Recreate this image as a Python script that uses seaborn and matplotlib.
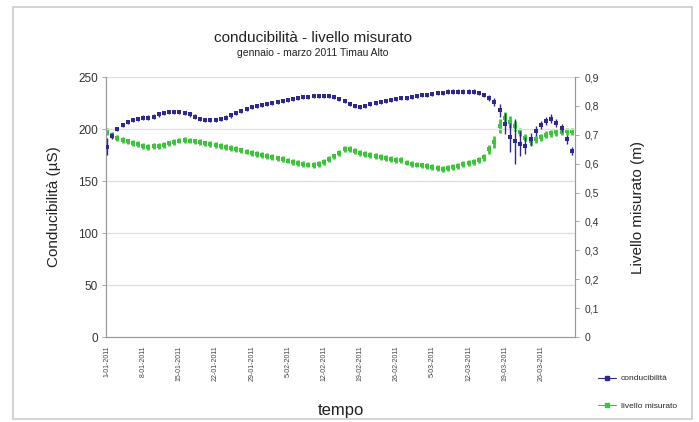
import matplotlib
matplotlib.use("Agg")
import matplotlib.pyplot as plt
import seaborn as sns
import pandas as pd
import numpy as np
from matplotlib.lines import Line2D
from matplotlib.patches import Rectangle

# ---- data ----
start_date = "2011-01-01"
n_days = 91
conducibilita = [183, 193, 200, 204, 207, 209, 210, 211, 211, 212,
                 214, 215, 216, 216, 216, 215, 214, 212, 210, 209,
                 209, 209, 210, 211, 213, 215, 217, 219, 221, 222,
                 223, 224, 225, 226, 227, 228, 229, 230, 231, 231,
                 232, 232, 232, 232, 231, 229, 227, 224, 222, 221,
                 222, 224, 225, 226, 227, 228, 229, 230, 230, 231,
                 232, 233, 233, 234, 235, 235, 236, 236, 236, 236,
                 236, 236, 235, 233, 230, 226, 218, 205, 192, 188,
                 186, 184, 190, 198, 204, 208, 210, 206, 201, 190,
                 179]
cond_err = [8, 3, 2, 2, 2, 2, 2, 2, 2, 2,
            2, 2, 2, 2, 2, 2, 2, 2, 2, 2,
            2, 2, 2, 2, 2, 2, 2, 2, 2, 2,
            2, 2, 2, 2, 2, 2, 2, 2, 2, 2,
            2, 2, 2, 2, 2, 2, 2, 2, 2, 2,
            2, 2, 2, 2, 2, 2, 2, 2, 2, 2,
            2, 2, 2, 2, 2, 2, 2, 2, 2, 2,
            2, 2, 2, 2, 3, 4, 6, 10, 14, 22,
            12, 8, 6, 5, 4, 4, 4, 4, 4, 4,
            4]
livello = [0.710, 0.700, 0.690, 0.683, 0.677, 0.672, 0.667, 0.662, 0.658, 0.660,
           0.662, 0.665, 0.670, 0.676, 0.680, 0.682, 0.680, 0.677, 0.674, 0.670,
           0.667, 0.664, 0.661, 0.658, 0.654, 0.650, 0.646, 0.642, 0.638, 0.634,
           0.630, 0.626, 0.622, 0.618, 0.615, 0.611, 0.606, 0.602, 0.599, 0.597,
           0.595, 0.598, 0.605, 0.615, 0.625, 0.638, 0.650, 0.652, 0.645, 0.637,
           0.633, 0.629, 0.626, 0.623, 0.620, 0.617, 0.614, 0.612, 0.604, 0.600,
           0.597, 0.594, 0.591, 0.588, 0.584, 0.582, 0.585, 0.589, 0.593, 0.598,
           0.603, 0.606, 0.614, 0.623, 0.650, 0.675, 0.730, 0.758, 0.745, 0.730,
           0.710, 0.690, 0.678, 0.685, 0.692, 0.700, 0.705, 0.708, 0.710, 0.712,
           0.712]
liv_err = [0.012, 0.01, 0.01, 0.01, 0.01, 0.01, 0.01, 0.01, 0.01, 0.01,
           0.01, 0.01, 0.01, 0.01, 0.01, 0.01, 0.01, 0.01, 0.01, 0.01,
           0.01, 0.01, 0.01, 0.01, 0.01, 0.01, 0.01, 0.01, 0.01, 0.01,
           0.01, 0.01, 0.01, 0.01, 0.01, 0.01, 0.01, 0.01, 0.01, 0.01,
           0.01, 0.01, 0.01, 0.01, 0.01, 0.01, 0.01, 0.01, 0.01, 0.01,
           0.01, 0.01, 0.01, 0.01, 0.01, 0.01, 0.01, 0.01, 0.01, 0.01,
           0.01, 0.01, 0.01, 0.01, 0.01, 0.01, 0.01, 0.01, 0.01, 0.01,
           0.01, 0.01, 0.01, 0.012, 0.015, 0.02, 0.025, 0.02, 0.02, 0.018,
           0.015, 0.012, 0.012, 0.012, 0.012, 0.012, 0.012, 0.012, 0.012, 0.012,
           0.012]
tick_labels = ["1-01-2011", "8-01-2011", "15-01-2011", "22-01-2011", "29-01-2011",
               "5-02-2011", "12-02-2011", "19-02-2011", "26-02-2011", "5-03-2011",
               "12-03-2011", "19-03-2011", "26-03-2011"]
left_ticks = [0, 50, 100, 150, 200, 250]
right_ticks = [0, 0.1, 0.2, 0.3, 0.4, 0.5, 0.6, 0.7, 0.8, 0.9]

dates = pd.date_range(start_date, periods=n_days, freq="D")
df = pd.DataFrame({"data": dates, "conducibilita": conducibilita,
                   "cond_err": cond_err, "livello": livello, "liv_err": liv_err})
tick_dates = pd.date_range(start_date, periods=len(tick_labels), freq="7D")

BLUE = "#2e2a8c"
GREEN = "#3cc43a"

sns.set_theme(style="white")
plt.rcParams['font.family'] = ['Liberation Sans', 'DejaVu Sans']

fig = plt.figure(figsize=(6.99, 4.22), dpi=100)
ax = fig.add_axes([0.1517, 0.2014, 0.6709, 0.6161])
ax2 = ax.twinx()

# conducibilità (left axis)
ax.errorbar(df["data"], df["conducibilita"], yerr=df["cond_err"], fmt="none",
            ecolor=BLUE, elinewidth=1.0, capsize=0, zorder=3)
sns.scatterplot(data=df, x="data", y="conducibilita", ax=ax, color=BLUE,
                marker="s", s=9, linewidth=0, zorder=4, legend=False)

# livello (right axis)
ax2.errorbar(df["data"], df["livello"], yerr=df["liv_err"], fmt="none",
             ecolor=GREEN, elinewidth=2.0, capsize=0, zorder=3)
sns.scatterplot(data=df, x="data", y="livello", ax=ax2, color=GREEN,
                marker="s", s=9, linewidth=0, zorder=4, legend=False)

ax.set_zorder(ax2.get_zorder() + 1)
ax.patch.set_visible(False)

ax.set_xlim(dates[0] - pd.Timedelta(days=0.2), dates[-1] + pd.Timedelta(days=0.6))
ax.set_ylim(0, 250)
ax2.set_ylim(0, 0.9)
ax.set_yticks(left_ticks)
ax.set_yticklabels([str(t) for t in left_ticks], fontsize=8.5, color="#333333")
ax2.set_yticks(right_ticks)
ax2.set_yticklabels([("%g" % t).replace(".", ",") for t in right_ticks],
                    fontsize=7.5, color="#333333")
ax.set_xticks(tick_dates)
ax.set_xticklabels(tick_labels, rotation=90, fontsize=5, color="#444444")

for y in left_ticks[1:]:
    ax.axhline(y, color="#dddddd", lw=0.9, zorder=0)

for a in (ax, ax2):
    a.spines["top"].set_visible(False)
    for s in ("left", "right", "bottom"):
        a.spines[s].set_color("#999999")
        a.spines[s].set_linewidth(0.8)
ax.tick_params(axis="both", length=3, width=0.6, color="#999999", pad=3)
ax2.tick_params(axis="y", length=3, width=0.6, color="#999999", pad=4)

ax.set_xlabel("tempo", fontsize=12, labelpad=16, color="#222222")
ax.set_ylabel("Conducibilità (µS)", fontsize=11, labelpad=12, color="#222222")
ax2.set_ylabel("Livello misurato (m)", fontsize=11, labelpad=23, color="#222222")

fig.text(0.448, 0.910, "conducibilità - livello misurato", ha="center", va="center",
         fontsize=11, color="#222222")
fig.text(0.448, 0.874, "gennaio - marzo 2011 Timau Alto", ha="center", va="center",
         fontsize=7.5, color="#222222")

handles = [Line2D([], [], color=BLUE, marker="s", markersize=2.5, lw=0.8),
           Line2D([], [], color=GREEN, marker="s", markersize=2.5, lw=0.8)]
fig.legend(handles, ["conducibilità", "livello misurato"], loc="center left",
           bbox_to_anchor=(0.845, 0.07), frameon=False, fontsize=6,
           handlelength=2.2, labelspacing=2.4, handletextpad=0.5)

fig.add_artist(Rectangle((0.018, 0.008), 0.972, 0.975, transform=fig.transFigure,
                         fill=False, edgecolor="#cccccc", lw=1.2))

fig.savefig("out.png", dpi=100)
